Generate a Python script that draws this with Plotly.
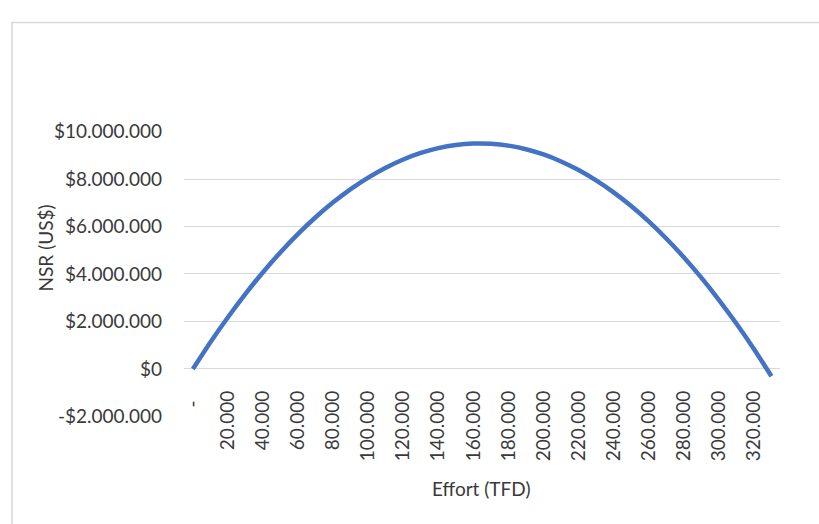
import plotly.graph_objects as go

# Data
effort = [0, 10000, 20000, 30000, 40000, 50000, 60000, 70000, 80000, 90000,
          100000, 110000, 120000, 130000, 140000, 150000, 160000, 170000, 180000, 190000,
          200000, 210000, 220000, 230000, 240000, 250000, 260000, 270000, 280000, 290000,
          300000, 310000, 320000, 330000]
nsr = [0, 1125000, 2179000, 3163000, 4075000, 4917000, 5688000, 6388000, 7016000, 7574000,
       8061000, 8478000, 8823000, 9097000, 9301000, 9434000, 9495000, 9486000, 9406000, 9255000,
       9033000, 8740000, 8376000, 7942000, 7436000, 6860000, 6212000, 5494000, 4705000, 3845000,
       2914000, 1912000, 840000, -304000]

x_tickvals = [0, 20000, 40000, 60000, 80000, 100000, 120000, 140000, 160000,
              180000, 200000, 220000, 240000, 260000, 280000, 300000, 320000]
x_ticktext = ["-\u00a0\u00a0", "20.000", "40.000", "60.000", "80.000", "100.000", "120.000",
              "140.000", "160.000", "180.000", "200.000", "220.000", "240.000", "260.000",
              "280.000", "300.000", "320.000"]
y_tickvals = [-2000000, 0, 2000000, 4000000, 6000000, 8000000, 10000000]
y_ticktext = ["-$2.000.000", "$0", "$2.000.000", "$4.000.000", "$6.000.000",
              "$8.000.000", "$10.000.000"]

x_title = "Effort (TFD)"
y_title = "NSR (US$)"

W, H = 819, 524
FONT = "Lato"
TXT = "#3a3a3a"
GRID = "#d9d9d9"

y_range = [-2000000, 10000000]
y_dom = [1 - 423 / H, 1 - 125 / H]
x_dom = [181 / W, 780 / W]
zero_pos = y_dom[0] + (0 - y_range[0]) / (y_range[1] - y_range[0]) * (y_dom[1] - y_dom[0])

fig = go.Figure()
fig.add_trace(go.Scatter(
    x=effort, y=nsr, mode="lines",
    line=dict(color="#4472C4", width=4.5, shape="spline", smoothing=0.6),
    showlegend=False, hoverinfo="skip"))

fig.update_layout(
    width=W, height=H,
    margin=dict(l=0, r=0, t=0, b=0),
    paper_bgcolor="white", plot_bgcolor="white",
    font=dict(family=FONT, size=19, color=TXT),
    xaxis=dict(
        domain=x_dom, range=[-5000, 335000],
        anchor="free", position=zero_pos,
        tickmode="array", tickvals=x_tickvals, ticktext=x_ticktext,
        tickangle=-90, ticks="", ticklabelstandoff=17,
        showgrid=False, zeroline=False, showline=False,
        tickfont=dict(family=FONT, size=19, color=TXT),
    ),
    yaxis=dict(
        domain=y_dom, range=y_range,
        tickmode="array", tickvals=y_tickvals, ticktext=y_ticktext,
        ticks="", ticklabelstandoff=21,
        showgrid=True, gridcolor=GRID, gridwidth=1.3,
        zeroline=False, showline=False,
        tickfont=dict(family=FONT, size=19, color=TXT),
    ),
    annotations=[
        dict(text=y_title, xref="paper", yref="paper", x=41.5 / W, y=1 - 247 / H,
             textangle=-90, showarrow=False, xanchor="center", yanchor="middle",
             font=dict(family=FONT, size=19, color=TXT)),
        dict(text=x_title, xref="paper", yref="paper", x=479.5 / W, y=1 - 498 / H,
             showarrow=False, xanchor="center", yanchor="middle",
             font=dict(family=FONT, size=19, color=TXT)),
    ],
    shapes=[
        dict(type="rect", xref="paper", yref="paper",
             x0=8 / W, x1=1.05, y0=-0.05, y1=1 - 11 / H,
             line=dict(color=GRID, width=1.6), fillcolor="rgba(0,0,0,0)", layer="below"),
    ],
)

fig.write_html("out.html",
               post_script="document.body.style.margin='0';document.body.style.overflow='hidden';")
